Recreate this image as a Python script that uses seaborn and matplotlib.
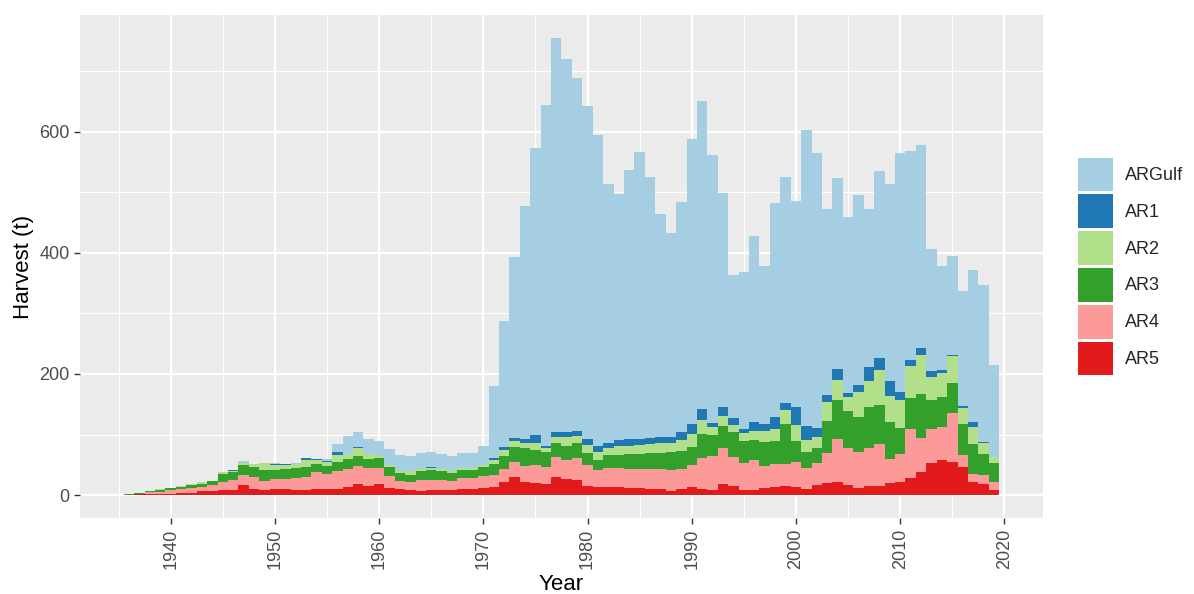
import numpy as np
import pandas as pd
import seaborn as sns
from matplotlib import pyplot as plt
from matplotlib.ticker import FixedLocator

years = list(range(1936, 2020))
areas = ["ARGulf", "AR1", "AR2", "AR3", "AR4", "AR5"]
colors = ["#A6CEE3", "#1F78B4", "#B2DF8A", "#33A02C", "#FB9A99", "#E31A1C"]

# harvest (t) per year, one list per area
ar_gulf = [0, 0, 0, 0, 0, 0, 0, 0, 0, 0, 0, 2.7, 0, 0, 1.6, 0, 1.6, 0, 0, 3.3,
           13, 30, 25, 25, 26, 26, 25, 25, 26, 25, 25, 25, 25, 26, 31, 119,
           208, 297.5, 385, 474, 564, 651, 617, 583.5, 549, 514, 426.5, 406.6, 444.7, 474,
           431, 368.6, 335.6, 380, 471, 509, 443, 353.7, 236.4, 259.5, 307.5, 261, 353.7, 373.6,
           339, 489, 454.6, 306, 315.7, 291, 314, 261, 309, 324, 395, 345.5, 335.6, 201.7,
           172, 163.6, 190, 251, 259.5, 152]
ar1 = [0, 0, 0, 0, 0, 0, 0, 0, 0, 0, 1.6, 0, 0, 0, 1.6, 1.6, 0, 3.3, 1.6, 1.6,
       5, 0, 1.6, 0, 0, 0, 1.6, 0, 0, 1.6, 0, 0, 0, 0, 0, 3.3,
       5, 5, 6.6, 13, 3.3, 8, 8, 8, 10, 10, 8, 10, 11.5, 10,
       10, 10, 10, 13, 16.5, 18, 6.6, 15, 11.5, 6.6, 15, 11.5, 20, 11.5,
       31, 23, 15, 13, 18, 6.6, 11.5, 23, 20, 25, 13, 10, 11.5, 10,
       5, 1.6, 3.3, 8, 1.6, 0]
ar2 = [0, 0, 1, 2, 0, 1.6, 1.6, 3.3, 1.6, 3.3, 1.6, 3.8, 5, 11.5, 8, 6.6, 6.6, 11.5, 6.6, 6.6,
       11.5, 8, 13, 8, 3.3, 3.3, 3, 5, 3.3, 3.3, 3, 3, 3, 3, 3.3, 6.6,
       10, 10, 8, 11.5, 6.6, 10, 15, 11.5, 13, 13, 13, 15, 13, 15,
       15, 16.5, 15, 18, 21.5, 23, 13, 16.5, 11.5, 13, 15, 18, 20, 23,
       25, 20, 18, 30, 33, 23, 41, 43, 58, 43, 46, 53, 64.5, 38,
       39.7, 44.6, 26.5, 28, 18, 10]
ar3 = [1.5, 2, 1, 3, 3.3, 3.3, 5, 5, 5, 13, 13, 16.5, 16.5, 18, 15, 16.5, 16.5, 16.5, 13, 13,
       15, 16.5, 16.5, 15, 16.5, 15, 13, 13, 15, 16.5, 15, 13, 13, 13, 15, 18,
       21.5, 25, 30, 25, 25, 23, 23, 25, 20, 16.5, 21.5, 21.5, 25, 25,
       26.5, 26.5, 30, 30, 30, 40, 35, 36, 41, 36, 33, 41, 38, 66,
       36, 26.5, 25, 53, 64.5, 61, 58, 68, 64.5, 61, 43, 51, 72.7, 48,
       49.6, 49.6, 51, 49.6, 34.7, 31.4]
ar4 = [0, 1, 4, 3, 6.5, 6.6, 8, 8, 11.5, 13, 16.5, 16.5, 20, 15, 16.5, 16.5, 21, 21.5, 28, 25,
       30, 30, 30, 30, 26, 20, 13, 13, 18, 16.5, 16.5, 15, 18, 18, 20, 21,
       21.5, 25, 26.5, 30, 28, 33, 31, 36, 35, 28, 31, 31, 31, 31,
       33, 33, 35, 33, 36, 51, 56, 59.5, 48, 45, 50, 36, 38, 36,
       41, 35, 36, 50, 71, 61, 59.5, 63, 69, 40, 46, 81, 56, 56,
       54.5, 81, 19.8, 13, 15, 13]
ar5 = [0, 1, 1, 2, 2, 4, 4, 6, 6, 9, 9, 16.5, 10, 9, 10, 10, 8, 8, 10, 10,
       10, 13, 18, 15, 18, 11, 10, 8, 7, 8, 8, 8, 10, 10, 11, 13,
       21.5, 30, 21.5, 20, 18, 30, 26.5, 25, 15, 13, 13, 13, 11.5, 11.5,
       10, 10, 6.6, 10, 13, 10, 8, 18, 15, 8, 8, 11.5, 13, 15,
       13, 10, 16.5, 20, 21.5, 16.5, 11.5, 15, 15, 20, 21.5, 28, 38, 53,
       57.9, 54.5, 46, 21.5, 18, 8]

series = [ar_gulf, ar1, ar2, ar3, ar4, ar5]
df = pd.concat([pd.DataFrame({"Year": years, "Area": name, "Harvest": vals})
                for name, vals in zip(areas, series)], ignore_index=True)

sns.set_theme(style="darkgrid", rc={
    "axes.facecolor": "#EBEBEB",
    "grid.color": "white",
    "grid.linewidth": 1.6,
    "xtick.color": "#333333",
    "ytick.color": "#333333",
    "xtick.labelcolor": "#4D4D4D",
    "ytick.labelcolor": "#4D4D4D",
})
plt.rcParams["font.family"] = ["Liberation Sans", "DejaVu Sans"]

fig = plt.figure(figsize=(11.94, 5.94), dpi=100)
ax = fig.add_axes([0.067, 0.128, 0.8065, 0.8468])

sns.histplot(df, x="Year", weights="Harvest", hue="Area", hue_order=areas,
             palette=colors, multiple="stack", discrete=True, linewidth=0,
             alpha=1, ax=ax)

totals = np.sum(series, axis=0)
top = totals.max()
ax.set_ylim(-0.05 * top, 1.05 * top)
span = 2019.5 - 1935.5
ax.set_xlim(1935.5 - 0.05 * span, 2019.5 + 0.05 * span)

ax.set_xticks(range(1940, 2021, 10))
ax.set_yticks([0, 200, 400, 600])
ax.xaxis.set_minor_locator(FixedLocator(range(1935, 2025, 10)))
ax.yaxis.set_minor_locator(FixedLocator([100, 300, 500, 700]))
ax.grid(which="minor", color="white", linewidth=0.8)
ax.grid(which="major", color="white", linewidth=1.6)
ax.set_axisbelow(True)
ax.tick_params(which="major", length=4, width=1, labelsize=13, bottom=True, left=True)
ax.tick_params(which="minor", length=0)
plt.setp(ax.get_xticklabels(), rotation=90)
for s in ax.spines.values():
    s.set_visible(False)

ax.set_xlabel("Year", fontsize=16, color="black")
ax.set_ylabel("Harvest (t)", fontsize=16, color="black")

sns.move_legend(ax, "center left", bbox_to_anchor=(1.02, 0.5), title=None,
                frameon=False, fontsize=13, handlelength=1.9, handleheight=2.5,
                labelspacing=0.17, handletextpad=0.7)

fig.savefig("out.png", dpi=100)
plt.close(fig)
